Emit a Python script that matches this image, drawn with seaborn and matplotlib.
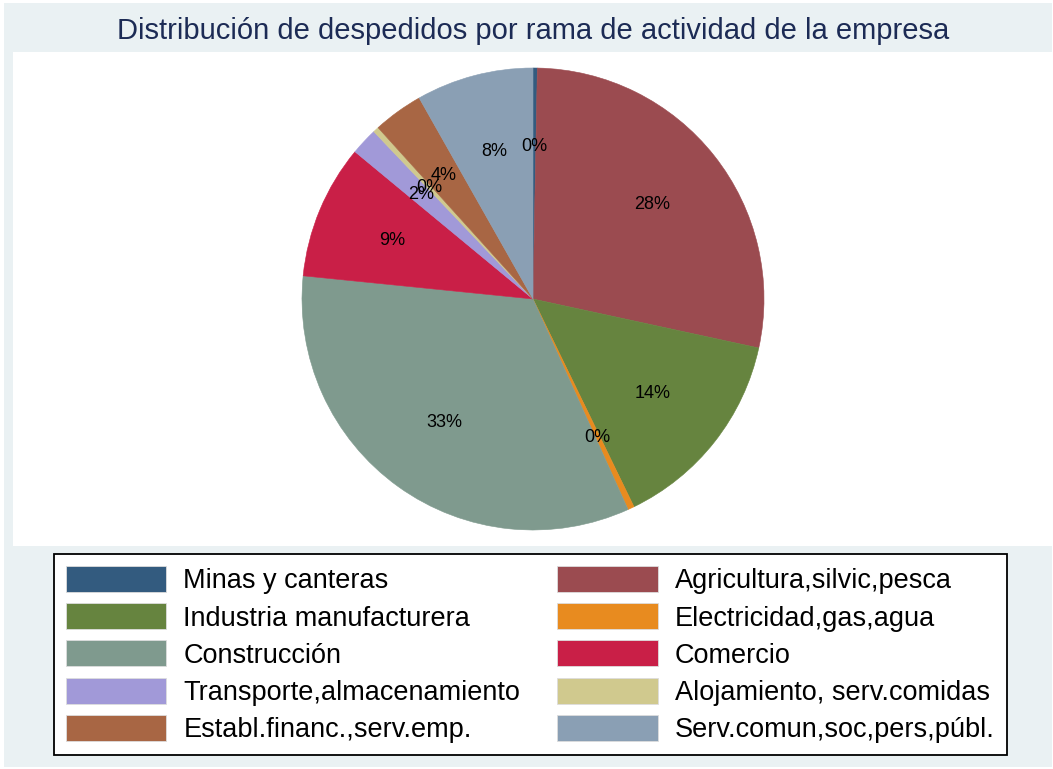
import matplotlib
matplotlib.use("Agg")
import matplotlib.pyplot as plt
from matplotlib.patches import Rectangle
import seaborn as sns

# Data: share of dismissals by branch (percent), clockwise from 12 o'clock
ramas = ['Minas y canteras', 'Agricultura,silvic,pesca', 'Industria manufacturera',
         'Electricidad,gas,agua', 'Construcción', 'Comercio',
         'Transporte,almacenamiento', 'Alojamiento, serv.comidas',
         'Establ.financ.,serv.emp.', 'Serv.comun,soc,pers,públ.']
porcentaje = [0.3, 28.1, 14.4, 0.45, 33.35, 9.4, 1.9, 0.4, 3.5, 8.2]
colores = ['#335b7f', '#9b4b50', '#66843f', '#e88b1f', '#7f9a8e',
           '#c91f47', '#a199d8', '#d0c98e', '#a86644', '#8a9fb4']

sns.set_theme(style="white")
plt.rcParams['font.family'] = ['Liberation Sans', 'DejaVu Sans']

W, H = 1053, 769
fig = plt.figure(figsize=(W / 100, H / 100), dpi=100, facecolor='white')

# Stata-like graph region (light bluish gray) and white plot region
fig.patches.append(Rectangle((4 / W, 1 - 767 / H), 1048 / W, 764 / H,
                             transform=fig.transFigure, facecolor='#eaf1f3',
                             edgecolor='none', zorder=-2))
fig.patches.append(Rectangle((13 / W, 1 - 546 / H), 1039 / W, 494 / H,
                             transform=fig.transFigure, facecolor='white',
                             edgecolor='none', zorder=-1))

fig.text(533 / W, 1 - 31 / H, 'Distribución de despedidos por rama de actividad de la empresa',
         ha='center', va='center', fontsize=21, color='#1c2b55')

# Pie axes
cx, cy, r = 533, 299, 231
ax = fig.add_axes([(cx - r) / W, (H - cy - r) / H, 2 * r / W, 2 * r / H])
ax.set_zorder(2)
ax.set_facecolor('none')
wedges, _, autotexts = ax.pie(porcentaje, colors=colores, startangle=90, counterclock=False,
                              autopct='%1.0f%%', pctdistance=0.66, radius=1,
                              wedgeprops=dict(linewidth=0.4))
for w, c in zip(wedges, colores):
    w.set_edgecolor(c)
for t in autotexts:
    t.set_fontsize(13)
    t.set_color('black')
ax.set_xlim(-1, 1)
ax.set_ylim(-1, 1)
ax.set_aspect('equal')
ax.axis('off')

# Legend: two columns, filled row by row
orden = [0, 2, 4, 6, 8, 1, 3, 5, 7, 9]
leg = fig.legend([wedges[i] for i in orden], [ramas[i] for i in orden],
                 ncol=2, loc='upper left', bbox_to_anchor=(54 / W, 1 - 554 / H),
                 fontsize=19.5, frameon=True, fancybox=False, shadow=False,
                 framealpha=1, labelcolor='black',
                 handlelength=3.7, handleheight=1.1, handletextpad=0.63,
                 columnspacing=1.37, labelspacing=0.33, borderpad=0.45,
                 borderaxespad=0)
frame = leg.get_frame()
frame.set_edgecolor('black')
frame.set_linewidth(1.3)
frame.set_facecolor('white')
for h in leg.legend_handles:
    h.set_edgecolor('#dddddd')
    h.set_linewidth(0.6)

fig.savefig('out.png', dpi=100, facecolor='white')
